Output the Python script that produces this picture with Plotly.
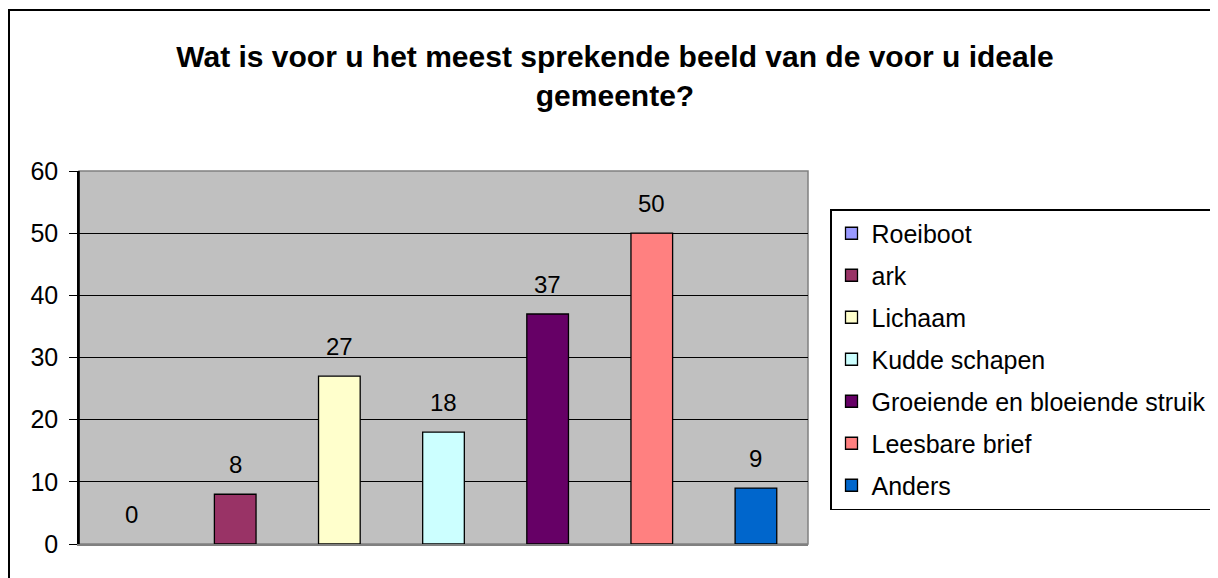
import plotly.graph_objects as go

title_text = "Wat is voor u het meest sprekende beeld van de voor u ideale<br>gemeente?"
series_names = ["Roeiboot", "ark", "Lichaam", "Kudde schapen",
                "Groeiende en bloeiende struik", "Leesbare brief", "Anders"]
series_values = [0, 8, 27, 18, 37, 50, 9]
series_colors = ["#9999FF", "#993366", "#FFFFCC", "#CCFFFF",
                 "#660066", "#FF8080", "#0066CC"]
y_ticks = [0, 10, 20, 30, 40, 50, 60]

FONT = "Liberation Sans, Arial, sans-serif"

# page offset (body margin) compensation
OFF = 8
W, H = 1218, 578
L, T = 79 - OFF, 171 - OFF
PW, PH = 729, 373
R = W - L - PW
B = H - T - PH


def px_x(page_x):
    return (page_x - OFF - L) / PW


def px_y(page_y):
    return (T + PH - (page_y - OFF)) / PH


fig = go.Figure()
for name, val, col in zip(series_names, series_values, series_colors):
    # bar itself (no outline drawn for an empty bar)
    fig.add_trace(go.Bar(
        x=[name], y=[val], name=name, legendgroup=name, showlegend=False,
        marker=dict(color=col, line=dict(color="black", width=1.3 if val > 0 else 0)),
        width=0.4, cliponaxis=False,
    ))
    # legend entry with outlined swatch
    fig.add_trace(go.Bar(
        x=[name], y=[None], name=name, legendgroup=name, showlegend=True,
        marker=dict(color=col, line=dict(color="black", width=1.3)),
        width=0.4, hoverinfo="skip",
    ))

annotations = [
    dict(x=name, y=val, xref="x", yref="y", text=str(val), showarrow=False,
         yanchor="bottom", yshift=14, font=dict(size=24, family=FONT, color="black"))
    for name, val in zip(series_names, series_values)
]

fig.update_layout(
    width=W, height=H,
    barmode="overlay",
    paper_bgcolor="white",
    plot_bgcolor="#C0C0C0",
    font=dict(family=FONT, color="black", size=22),
    margin=dict(l=L, r=R, t=T, b=B, autoexpand=False),
    title=dict(text="<b>" + title_text + "</b>", x=(615 - OFF) / W, xanchor="center",
               y=1 - (67 - OFF) / H, yanchor="middle",
               font=dict(size=30, family=FONT, color="black")),
    showlegend=True,
    legend=dict(x=px_x(830), xanchor="left", y=px_y(209), yanchor="top",
                bordercolor="black", borderwidth=1.5, bgcolor="white",
                font=dict(size=25, family=FONT, color="black"),
                traceorder="grouped", tracegroupgap=6.5, itemwidth=30),
    annotations=annotations,
    xaxis=dict(showticklabels=False, ticks="", showgrid=False,
               showline=True, linecolor="#808080", linewidth=1.5,
               categoryorder="array", categoryarray=series_names, zeroline=False),
    yaxis=dict(range=[0, 60], tickvals=y_ticks, showgrid=True,
               gridcolor="black", gridwidth=1.2, ticks="outside", ticklen=8,
               ticklabelstandoff=6,
               tickcolor="black", showline=True, linecolor="black", linewidth=1.5,
               zeroline=False, tickfont=dict(size=25, family=FONT, color="black")),
    shapes=[
        dict(type="rect", xref="paper", yref="paper", x0=0, x1=1, y0=0, y1=1,
             line=dict(color="#808080", width=1.5), layer="below"),
        dict(type="line", xref="paper", yref="paper", x0=0, x1=0, y0=0, y1=1,
             line=dict(color="black", width=1.5)),
        dict(type="rect", xref="paper", yref="paper",
             x0=px_x(9), x1=px_x(1240),
             y0=px_y(600), y1=px_y(10),
             line=dict(color="black", width=2)),
    ],
)

fig.write_html("out.html")
